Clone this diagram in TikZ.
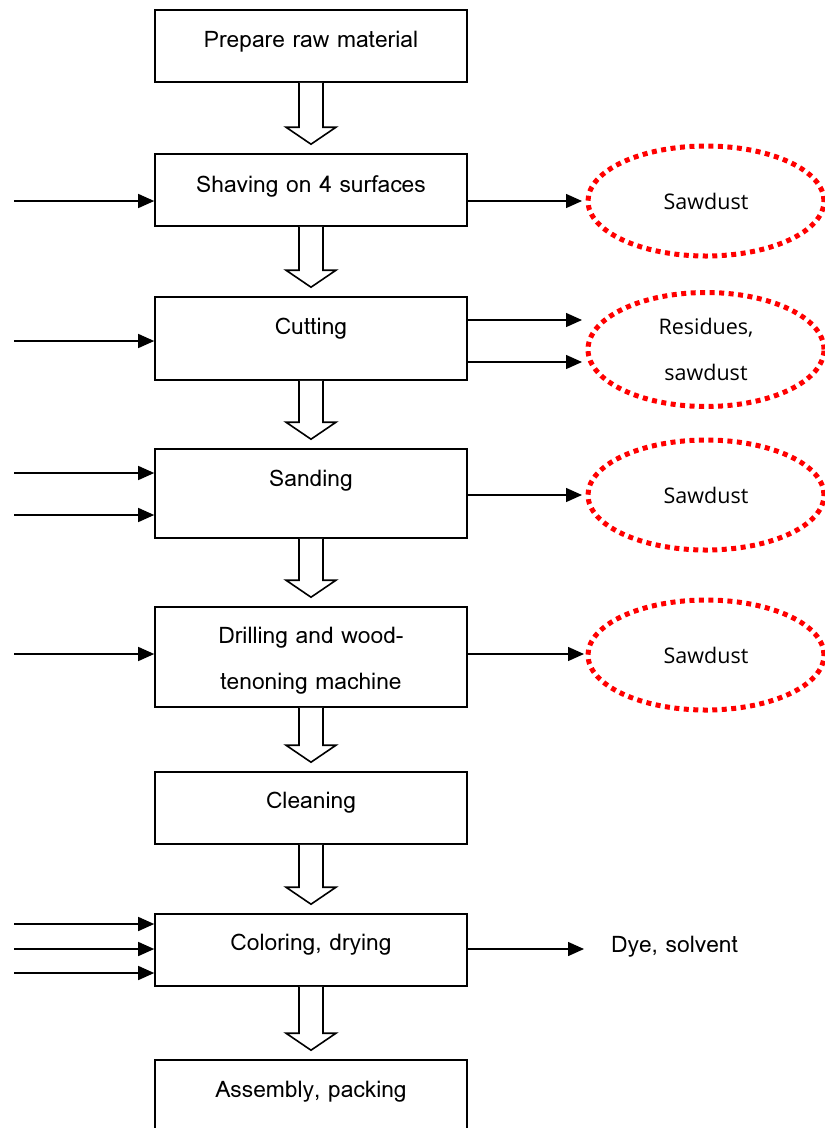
\documentclass[tikz,border=0pt]{standalone}
\usepackage{fontspec}
\newfontfamily\boxfont[Script=Thai]{Loma}
\newfontfamily\ellfont{Open Sans}
\usetikzlibrary{arrows.meta,calc,shapes.geometric}
\begin{document}
\begin{tikzpicture}[x=1pt,y=-1pt,
  box/.style={draw,line width=1.6pt,minimum width=312pt,inner sep=0pt},
  lbl/.style={font=\boxfont\fontsize{22.8}{27}\selectfont,align=center,inner sep=0pt},
  ell/.style={draw=red,ellipse,line width=5pt,dash pattern=on 5pt off 4.5pt,minimum width=236pt,inner sep=0pt,font=\ellfont\fontsize{21.5}{26}\selectfont,align=center},
  arr/.style={line width=1.4pt,-{Triangle[length=16pt,width=14pt]}},
  barrow/.style={draw,line width=1.6pt,fill=white,line join=miter}
]
\useasboundingbox (0,0) rectangle (825,1128);
\clip (0,0) rectangle (825,1128);
% boxes
\node[box,minimum height=72pt] (b1) at (311,46) {};
\node[box,minimum height=72pt] (b2) at (311,190) {};
\node[box,minimum height=83pt] (b3) at (311,338.5) {};
\node[box,minimum height=89pt] (b4) at (311,493.5) {};
\node[box,minimum height=100pt] (b5) at (311,657) {};
\node[box,minimum height=72pt] (b6) at (311,808) {};
\node[box,minimum height=72pt] (b7) at (311,950) {};
\node[box,minimum height=100pt] (b8) at (311,1110) {};
% texts
\node[lbl] (t1) at (311,42) {Prepare raw material};
\node[lbl] (t2) at (311,186) {Shaving on 4 surfaces};
\node[lbl] (t3) at (311,329) {Cutting};
\node[lbl] (t4) at (311,481) {Sanding};
\node[lbl,font=\boxfont\fontsize{22.8}{46}\selectfont] (t5) at (311,661) {Drilling and wood-\\tenoning machine};
\node[lbl] (t6) at (311,803) {Cleaning};
\node[lbl] (t7) at (311,945) {Coloring, drying};
\node[lbl] (t8) at (311,1092) {Assembly, packing};
% block arrows
\foreach \a/\b in {b1/b2,b2/b3,b3/b4,b4/b5,b5/b6,b6/b7,b7/b8}{
  \draw[barrow] ($(\a.south)+(-12,0)$) -- ($(\b.north)+(-12,-26)$) -- ($(\b.north)+(-25,-26)$)
    -- ($(\b.north)+(0,-9)$) -- ($(\b.north)+(25,-26)$) -- ($(\b.north)+(12,-26)$)
    -- ($(\a.south)+(12,0)$);
}
% ellipses
\node[ell,minimum height=110pt] (e1) at (706,201) {Sawdust};
\node[ell,minimum height=114pt] (e2) at (706,349.5) {Residues,\\[20pt]sawdust};
\node[ell,minimum height=110pt] (e3) at (706,495) {Sawdust};
\node[ell,minimum height=110pt] (e4) at (706,655) {Sawdust};
\node[lbl,anchor=west] (dye) at (611,947) {Dye, solvent};
% inputs
\foreach \n/\y in {i1/201,i2/341,i3/473,i4/515,i5/654,i6/924,i7/949,i8/973}{
  \coordinate (\n) at (14,\y);
}
\draw[arr] (i1) -- (i1 -| b2.west);
\draw[arr] (i2) -- (i2 -| b3.west);
\draw[arr] (i3) -- (i3 -| b4.west);
\draw[arr] (i4) -- (i4 -| b4.west);
\draw[arr] (i5) -- (i5 -| b5.west);
\draw[arr] (i6) -- (i6 -| b7.west);
\draw[arr] (i7) -- (i7 -| b7.west);
\draw[arr] (i8) -- (i8 -| b7.west);
% outputs
\coordinate (o1) at (582,201);
\coordinate (o2) at (582,320);
\coordinate (o3) at (582,362);
\coordinate (o4) at (582,495);
\coordinate (o5) at (584,654);
\coordinate (o6) at (584,949);
\draw[arr] (o1 -| b2.east) -- (o1);
\draw[arr] (o2 -| b3.east) -- (o2);
\draw[arr] (o3 -| b3.east) -- (o3);
\draw[arr] (o4 -| b4.east) -- (o4);
\draw[arr] (o5 -| b5.east) -- (o5);
\draw[arr] (o6 -| b7.east) -- (o6);
\end{tikzpicture}
\end{document}
